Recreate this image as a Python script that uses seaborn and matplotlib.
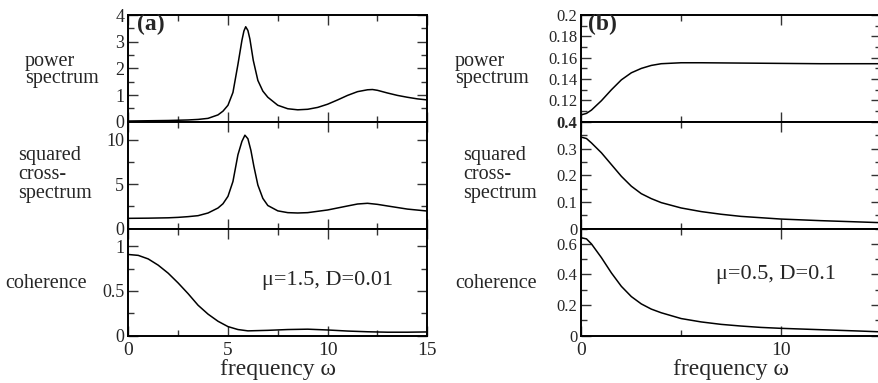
import matplotlib
matplotlib.use("Agg")
import matplotlib.pyplot as plt
import seaborn as sns
import pandas as pd
from matplotlib.ticker import MultipleLocator

# ---------------- data ----------------
a_pow_w = [0, 1, 2, 3, 3.5, 4, 4.5, 4.75, 5, 5.25, 5.5, 5.7, 5.8, 5.89, 6.0, 6.1, 6.27,
           6.5, 6.75, 7, 7.5, 8, 8.5, 9, 9.5, 10, 10.5, 11, 11.5, 12, 12.25, 12.5, 13,
           13.5, 14, 14.5, 15]
a_pow = [0.03, 0.04, 0.05, 0.07, 0.09, 0.13, 0.26, 0.4, 0.62, 1.1, 2.15, 3.05, 3.4, 3.56,
         3.42, 3.1, 2.3, 1.55, 1.15, 0.92, 0.62, 0.49, 0.45, 0.47, 0.54, 0.66, 0.82, 0.99,
         1.13, 1.2, 1.21, 1.18, 1.08, 0.99, 0.92, 0.86, 0.82]

a_cr_w = [0, 1, 2, 2.5, 3, 3.5, 4, 4.5, 4.75, 5, 5.25, 5.5, 5.7, 5.85, 6.0, 6.15, 6.3,
          6.5, 6.75, 7, 7.5, 8, 8.5, 9, 10, 11, 11.5, 12, 12.5, 13, 14, 15]
a_cr = [1.16, 1.18, 1.22, 1.27, 1.35, 1.46, 1.76, 2.32, 2.8, 3.63, 5.3, 8.3, 9.8, 10.5,
        10.1, 8.8, 7.0, 4.9, 3.4, 2.6, 2.0, 1.8, 1.76, 1.8, 2.1, 2.55, 2.77, 2.85, 2.73,
        2.55, 2.2, 1.98]

a_co_w = [0, 0.5, 1, 1.5, 2, 2.5, 3, 3.5, 4, 4.5, 5, 5.5, 6, 7, 8, 9, 10, 11, 12, 13, 14, 15]
a_co = [0.91, 0.90, 0.86, 0.79, 0.70, 0.59, 0.47, 0.34, 0.24, 0.16, 0.10, 0.067, 0.052,
        0.058, 0.067, 0.071, 0.062, 0.05, 0.042, 0.037, 0.037, 0.04]

b_pow_w = [0, 0.25, 0.5, 1, 1.5, 2, 2.5, 3, 3.5, 4, 5, 6, 8, 10, 12, 15]
b_pow = [0.1066, 0.1079, 0.111, 0.1198, 0.130, 0.1393, 0.1459, 0.150, 0.1528, 0.1544,
         0.1553, 0.1553, 0.155, 0.1547, 0.1544, 0.1544]

b_cr_w = [0, 0.25, 0.5, 1, 1.5, 2, 2.5, 3, 3.5, 4, 5, 6, 7, 8, 9, 10, 12, 14, 15]
b_cr = [0.3425, 0.3375, 0.321, 0.284, 0.24, 0.196, 0.159, 0.131, 0.1125, 0.0975, 0.0775,
        0.064, 0.054, 0.046, 0.041, 0.036, 0.030, 0.025, 0.0225]

b_co_w = [0, 0.25, 0.5, 1, 1.5, 2, 2.5, 3, 3.5, 4, 5, 6, 7, 8, 9, 10, 12, 14, 15]
b_co = [0.64, 0.633, 0.60, 0.51, 0.41, 0.322, 0.255, 0.207, 0.173, 0.149, 0.111, 0.089,
        0.073, 0.062, 0.053, 0.047, 0.038, 0.029, 0.024]

row_labels = ["power\nspectrum", "squared\ncross-\nspectrum", "coherence"]
panel_labels = ["(a)", "(b)"]
param_labels = ["\u03bc=1.5, D=0.01", "\u03bc=0.5, D=0.1"]
x_label = "frequency \u03c9"

# ---------------- style ----------------
sns.set_theme(style="ticks")
plt.rcParams["font.family"] = ["Liberation Serif", "DejaVu Serif"]

W, H = 879, 383
fig = plt.figure(figsize=(W / 100, H / 100), dpi=100)


def add_ax(left, top, width, height):
    return fig.add_axes([left / W, 1 - (top + height) / H, width / W, height / H])


top0, bot0 = 15.0, 335.5
rh = (bot0 - top0) / 3
panel_left = [128.3, 581.5]
pw = 299.0

series = [
    [(a_pow_w, a_pow), (a_cr_w, a_cr), (a_co_w, a_co)],
    [(b_pow_w, b_pow), (b_cr_w, b_cr), (b_co_w, b_co)],
]
ylims = [[(0, 4), (0, 12), (0, 1.2)], [(0.1, 0.2), (0, 0.4), (0, 0.7)]]
ymaj = [[1, 5, 0.5], [0.02, 0.1, 0.2]]
ymin = [[0.5, 2.5, 0.25], [0.01, 0.05, 0.1]]
xmaj = [5, 10]
xmin = [2.5, 5]
ytick_size = [13, 12]

axes = [[None] * 3 for _ in range(2)]
for p in range(2):
    for r in range(3):
        ax = add_ax(panel_left[p], top0 + r * rh, pw, rh)
        axes[p][r] = ax
        w, v = series[p][r]
        df = pd.DataFrame({"omega": w, "value": v})
        sns.lineplot(data=df, x="omega", y="value", ax=ax, color="black", lw=1.1)
        ax.set_xlabel("")
        ax.set_ylabel("")
        ax.set_xlim(0, 15)
        ax.set_ylim(*ylims[p][r])
        ax.xaxis.set_major_locator(MultipleLocator(xmaj[p]))
        ax.xaxis.set_minor_locator(MultipleLocator(xmin[p]))
        ax.yaxis.set_major_locator(MultipleLocator(ymaj[p][r]))
        ax.yaxis.set_minor_locator(MultipleLocator(ymin[p][r]))
        ax.tick_params(which="both", direction="in", top=True, right=True,
                       color="#333333", width=1.0)
        ax.tick_params(which="major", length=7)
        ax.tick_params(which="minor", length=4)
        ax.tick_params(axis="y", labelsize=ytick_size[p], pad=3)
        ax.tick_params(axis="x", labelsize=14, pad=5)
        for s in ax.spines.values():
            s.set_linewidth(1.4)
            s.set_color("black")
        if r < 2:
            ax.tick_params(labelbottom=False)
        ax.yaxis.set_major_formatter(plt.FuncFormatter(lambda val, pos: "%g" % round(val, 6)))

# hide the 0.1 label of panel (b) top (covered by 0.4 of the middle row)
axb0 = axes[1][0]
axb0.yaxis.set_major_formatter(
    plt.FuncFormatter(lambda val, pos: "" if abs(val - 0.1) < 1e-6 else "%g" % round(val, 6)))

fig.canvas.draw()
for lab in axes[1][1].get_yticklabels():
    if lab.get_text() == "0.4":
        lab.set_fontweight("bold")

# x labels
for p in range(2):
    axes[p][2].set_xlabel(x_label, fontsize=17, labelpad=0)

# panel labels
axes[0][0].text(0.44, 3.66, panel_labels[0], fontsize=17, fontweight="bold",
                ha="left", va="center")
axes[1][0].text(0.33, 0.1916, panel_labels[1], fontsize=17, fontweight="bold",
                ha="left", va="center")

# parameter annotations
axes[0][2].text(10.0, 0.62, param_labels[0], fontsize=16, ha="center", va="center")
axes[1][2].text(9.76, 0.40, param_labels[1], fontsize=16, ha="center", va="center")

# row labels
row_pos = [[(25, 70, 0.8), (18, 175, 1.0), (5, 283, 1.0)],
           [(455, 70, 0.8), (463, 175, 1.0), (455, 283, 1.0)]]
for p in range(2):
    for r in range(3):
        x, y, ls = row_pos[p][r]
        fig.text(x / W, 1 - y / H, row_labels[r], fontsize=14.5, ha="left", va="center",
                 linespacing=ls, multialignment="left")

fig.savefig("out.png", dpi=100)
